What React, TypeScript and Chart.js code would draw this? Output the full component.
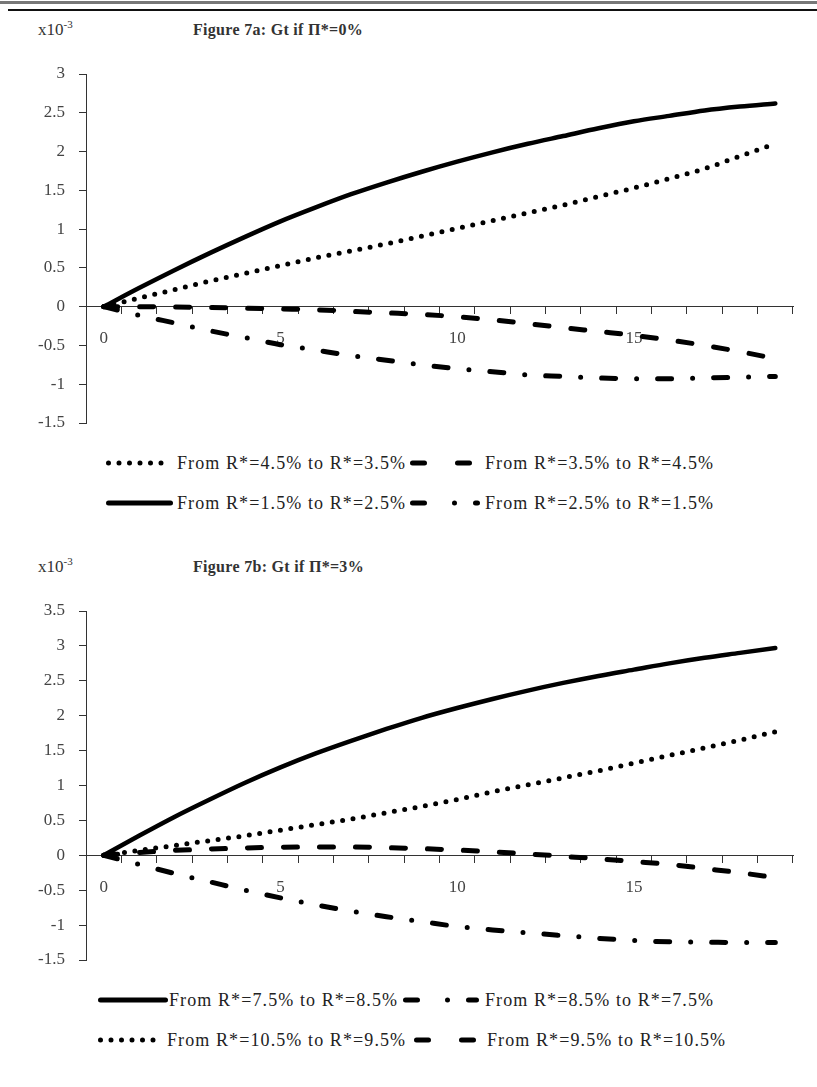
import React, { useEffect, useRef } from 'react';
import { Chart, registerables } from 'chart.js';

Chart.register(...registerables);

// ---------- data ----------
const periods = ['0', '1', '2', '3', '4', '5', '6', '7', '8', '9', '10', '11', '12', '13', '14', '15', '16', '17', '18', '19'];
const shownTicks = ['0', '5', '10', '15'];

// Figure 7a (Pi* = 0%)
const aFrom45to35 = [0, 0.11, 0.22, 0.33, 0.43, 0.53, 0.63, 0.72, 0.81, 0.91, 1.01, 1.11, 1.21, 1.31, 1.42, 1.53, 1.65, 1.78, 1.94, 2.10];
const aFrom35to45 = [0, 0, -0.005, -0.01, -0.02, -0.03, -0.04, -0.06, -0.08, -0.10, -0.13, -0.17, -0.22, -0.27, -0.32, -0.37, -0.43, -0.50, -0.58, -0.67];
const aFrom15to25 = [0, 0.24, 0.47, 0.69, 0.90, 1.10, 1.28, 1.45, 1.60, 1.74, 1.87, 1.99, 2.10, 2.20, 2.30, 2.39, 2.46, 2.53, 2.58, 2.62];
const aFrom25to15 = [0, -0.11, -0.21, -0.31, -0.40, -0.49, -0.56, -0.63, -0.69, -0.75, -0.80, -0.84, -0.88, -0.90, -0.92, -0.93, -0.93, -0.92, -0.91, -0.90];

// Figure 7b (Pi* = 3%)
const bFrom75to85 = [0, 0.28, 0.55, 0.80, 1.04, 1.26, 1.46, 1.64, 1.81, 1.97, 2.11, 2.24, 2.36, 2.47, 2.57, 2.66, 2.75, 2.83, 2.90, 2.97];
const bFrom85to75 = [0, -0.13, -0.26, -0.38, -0.50, -0.61, -0.71, -0.80, -0.88, -0.95, -1.02, -1.07, -1.11, -1.15, -1.19, -1.22, -1.24, -1.245, -1.25, -1.25];
const bFrom105to95 = [0, 0.07, 0.14, 0.21, 0.28, 0.36, 0.44, 0.52, 0.61, 0.70, 0.80, 0.91, 1.01, 1.11, 1.21, 1.32, 1.43, 1.54, 1.65, 1.77];
const bFrom95to105 = [0, 0.04, 0.07, 0.09, 0.105, 0.115, 0.12, 0.12, 0.11, 0.095, 0.075, 0.05, 0.02, -0.015, -0.05, -0.09, -0.13, -0.19, -0.25, -0.32];

// ---------- styles ----------
type Kind = 'solid' | 'dotted' | 'dashed' | 'dashdot';
const LINE: Record<Kind, { dash: number[]; width: number }> = {
  solid: { dash: [], width: 4.5 },
  dotted: { dash: [0, 10.5], width: 5 },
  dashed: { dash: [14, 22], width: 5 },
  dashdot: { dash: [14, 21, 0, 21], width: 5 },
};
const SERIF = '"Liberation Serif", "Times New Roman", serif';
const AXIS_COLOR = '#333';
const TEXT_COLOR = '#333';

type Series = { label: string; kind: Kind; data: number[] };

function GtChart(props: { top: number; height: number; yMin: number; yMax: number; series: Series[] }) {
  const ref = useRef<HTMLCanvasElement>(null);
  useEffect(() => {
    const chart = new Chart(ref.current as HTMLCanvasElement, {
      type: 'line',
      data: {
        labels: periods,
        datasets: props.series.map((s) => ({
          label: s.label,
          data: s.data,
          borderColor: '#000',
          backgroundColor: '#000',
          borderWidth: LINE[s.kind].width,
          borderDash: LINE[s.kind].dash,
          borderCapStyle: 'round',
          borderJoinStyle: 'round',
          pointRadius: 0,
          fill: false,
          cubicInterpolationMode: 'monotone',
        })),
      },
      options: {
        responsive: false,
        animation: false,
        events: [],
        layout: { padding: { left: 0, right: 24, top: 14, bottom: 17 } },
        plugins: { legend: { display: false }, tooltip: { enabled: false }, title: { display: false } },
        scales: {
          x: {
            type: 'category',
            position: { y: 0 } as any,
            offset: true,
            grid: { display: true, drawOnChartArea: false, drawTicks: true, tickLength: 7, offset: true, tickColor: AXIS_COLOR, tickWidth: 1 },
            border: { display: true, color: AXIS_COLOR, width: 1 },
            ticks: {
              autoSkip: false,
              maxRotation: 0,
              padding: 15,
              color: '#444',
              font: { family: SERIF, size: 17 },
              callback: (_v: any, i: number) => (shownTicks.includes(periods[i]) ? periods[i] : ''),
            },
            afterFit: (s: any) => {
              s.paddingLeft = 0;
              s.paddingRight = 0;
            },
          },
          y: {
            min: props.yMin,
            max: props.yMax,
            grid: { display: true, drawOnChartArea: false, drawTicks: true, tickLength: 7, tickColor: AXIS_COLOR, tickWidth: 1 },
            border: { display: true, color: AXIS_COLOR, width: 1 },
            ticks: {
              stepSize: 0.5,
              padding: 14,
              color: '#444',
              font: { family: SERIF, size: 17 },
              callback: (v: any) => String(Math.round(Number(v) * 10) / 10),
            },
            afterFit: (s: any) => {
              s.width = 86;
              s.paddingTop = 0;
              s.paddingBottom = 0;
            },
          },
        },
      },
    } as any);
    return () => chart.destroy();
  }, []);
  return (
    <canvas
      ref={ref}
      width={817}
      height={props.height}
      style={{ position: 'absolute', left: 0, top: props.top, width: 817, height: props.height, display: 'block' }}
    />
  );
}

function Sample(props: { kind: Kind; left: number; width: number; y: number }) {
  const { kind, left, width, y } = props;
  let dash = '';
  let sw = 5;
  if (kind === 'dotted') { dash = '0 10.5'; sw = 5; }
  if (kind === 'dashed') { dash = '12 33'; }
  if (kind === 'dashdot') { dash = '12 30 0 21'; }
  return (
    <svg style={{ position: 'absolute', left, top: y - 10 }} width={width} height={20}>
      <line x1={2.5} y1={10} x2={width - 2.5} y2={10} stroke="#000" strokeWidth={sw} strokeLinecap="round" strokeDasharray={dash || undefined} />
    </svg>
  );
}

function LegendText(props: { text: string; left: number; y: number }) {
  return (
    <div
      style={{
        position: 'absolute',
        left: props.left,
        top: props.y - 11,
        height: 22,
        lineHeight: '22px',
        fontFamily: SERIF,
        fontSize: 18,
        letterSpacing: '1.1px',
        color: '#222',
        whiteSpace: 'nowrap',
      }}
    >
      {props.text}
    </div>
  );
}

function Header(props: { y: number; title: string }) {
  return (
    <>
      <div style={{ position: 'absolute', left: 38, top: props.y - 11, lineHeight: '22px', fontFamily: SERIF, fontSize: 17, color: TEXT_COLOR, whiteSpace: 'nowrap' }}>
        x10<sup style={{ fontSize: 11, verticalAlign: 'baseline', position: 'relative', top: -7 }}>-3</sup>
      </div>
      <div style={{ position: 'absolute', left: 193, top: props.y - 11, lineHeight: '22px', fontFamily: SERIF, fontSize: 16, fontWeight: 'bold', letterSpacing: '0.3px', color: TEXT_COLOR, whiteSpace: 'nowrap' }}>
        {props.title}
      </div>
    </>
  );
}

const seriesA: Series[] = [
  { label: 'From R*=4.5% to R*=3.5%', kind: 'dotted', data: aFrom45to35 },
  { label: 'From R*=3.5% to R*=4.5%', kind: 'dashed', data: aFrom35to45 },
  { label: 'From R*=1.5% to R*=2.5%', kind: 'solid', data: aFrom15to25 },
  { label: 'From R*=2.5% to R*=1.5%', kind: 'dashdot', data: aFrom25to15 },
];
const seriesB: Series[] = [
  { label: 'From R*=7.5% to R*=8.5%', kind: 'solid', data: bFrom75to85 },
  { label: 'From R*=8.5% to R*=7.5%', kind: 'dashdot', data: bFrom85to75 },
  { label: 'From R*=10.5% to R*=9.5%', kind: 'dotted', data: bFrom105to95 },
  { label: 'From R*=9.5% to R*=10.5%', kind: 'dashed', data: bFrom95to105 },
];

export default function App() {
  return (
    <div style={{ position: 'absolute', left: 0, top: 0, width: 817, height: 1087, background: '#fff', overflow: 'hidden' }}>
      {/* top rules */}
      <div style={{ position: 'absolute', left: 0, top: 1, width: 817, height: 3, background: '#777' }} />
      <div style={{ position: 'absolute', left: 8, top: 9, width: 809, height: 2, background: '#111' }} />

      <Header y={30} title="Figure 7a: Gt if Π*=0%" />
      <GtChart top={60} height={380} yMin={-1.5} yMax={3} series={seriesA} />

      <Sample kind="dotted" left={106} width={62} y={463} />
      <LegendText text={seriesA[0].label} left={177} y={463} />
      <Sample kind="dashed" left={410} width={68} y={463} />
      <LegendText text={seriesA[1].label} left={485} y={463} />
      <Sample kind="solid" left={106} width={67} y={503} />
      <LegendText text={seriesA[2].label} left={177} y={503} />
      <Sample kind="dashdot" left={410} width={70} y={503} />
      <LegendText text={seriesA[3].label} left={485} y={503} />

      <Header y={567} title="Figure 7b: Gt if Π*=3%" />
      <GtChart top={597} height={380} yMin={-1.5} yMax={3.5} series={seriesB} />

      <Sample kind="solid" left={98} width={70} y={1000} />
      <LegendText text={seriesB[0].label} left={169} y={1000} />
      <Sample kind="dashdot" left={403} width={76} y={1000} />
      <LegendText text={seriesB[1].label} left={485} y={1000} />
      <Sample kind="dotted" left={98} width={62} y={1040} />
      <LegendText text={seriesB[2].label} left={167} y={1040} />
      <Sample kind="dashed" left={414} width={63} y={1040} />
      <LegendText text={seriesB[3].label} left={487} y={1040} />
    </div>
  );
}
